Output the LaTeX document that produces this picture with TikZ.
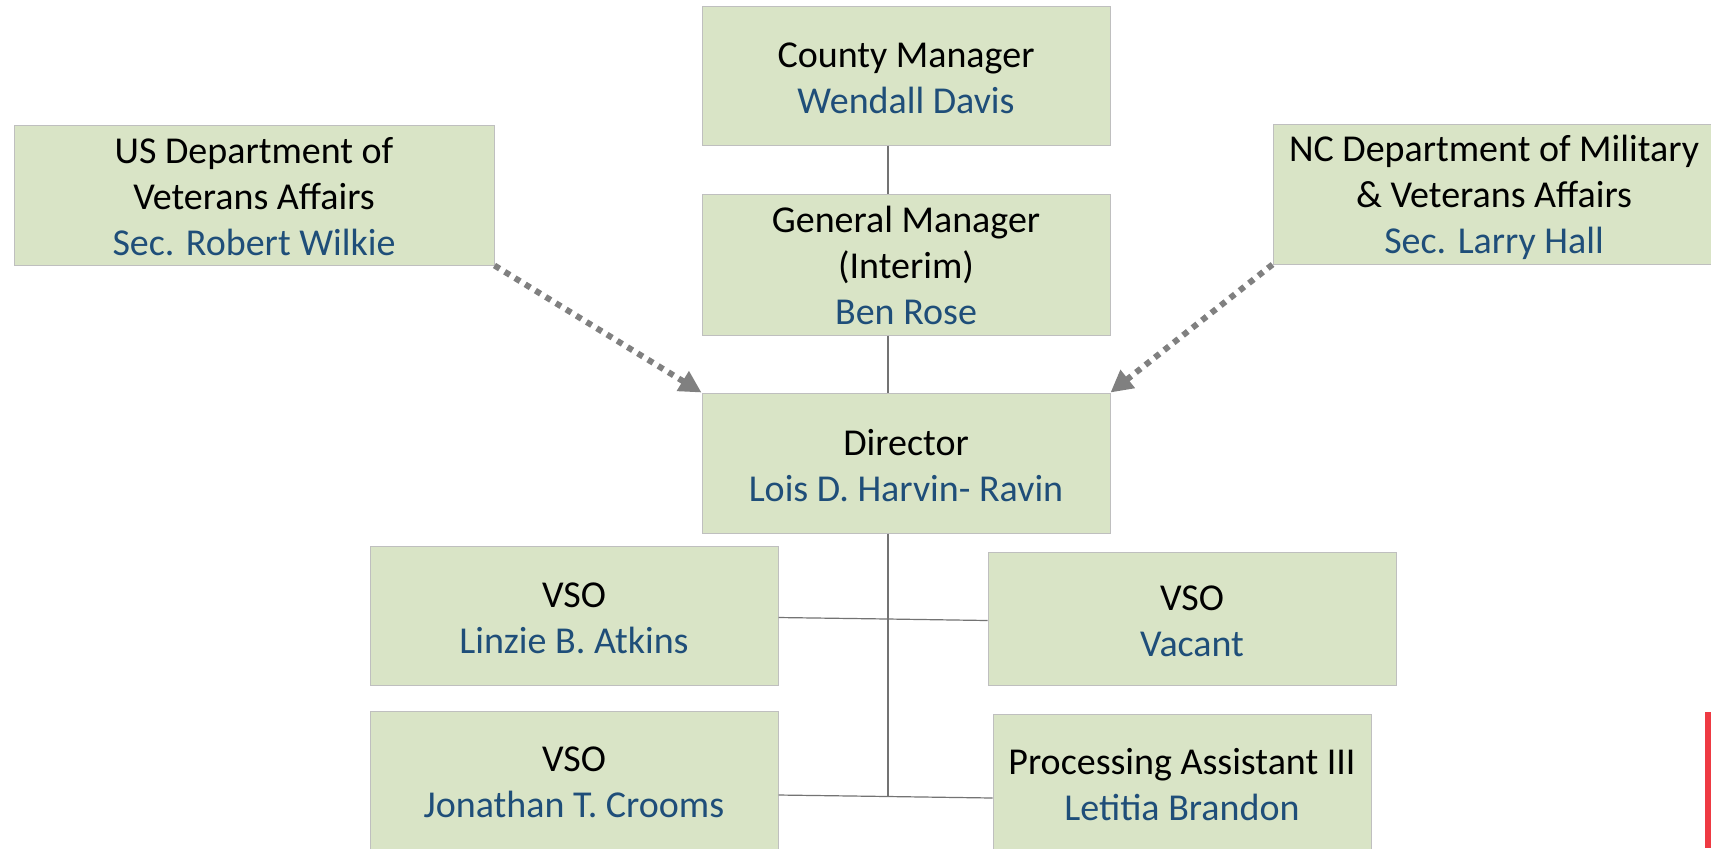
\documentclass[tikz,border=0pt]{standalone}
\usepackage{fontspec}
\setmainfont{Carlito}
\usetikzlibrary{arrows.meta}
\definecolor{boxfill}{HTML}{D9E4C6}
\definecolor{boxline}{HTML}{BFBFBF}
\definecolor{namec}{HTML}{1F4E79}
\definecolor{arrowc}{HTML}{808080}
\definecolor{redbar}{HTML}{EE3A43}
\tikzset{
  orgbox/.style={draw=boxline, line width=0.5pt, fill=boxfill, inner sep=0pt},
  orgtext/.style={align=center, font=\fontsize{19}{23}\selectfont, inner sep=0pt},
  orgline/.style={draw=black!55, line width=0.6pt},
  dotarrow/.style={draw=arrowc, line width=3pt, dash pattern=on 3pt off 3pt,
    -{Triangle[length=11pt,width=11pt]}, arrowc},
}
\newcommand{\nm}[1]{\textcolor{namec}{#1}}
\begin{document}
\begin{tikzpicture}[x=0.5pt,y=-0.5pt]
\useasboundingbox (0,0) rectangle (1711,848);
\clip (0,0) rectangle (1711,848);
\fill[white] (0,0) rectangle (1711,848);
% boxes
\node[orgbox, minimum width=204pt, minimum height=69.5pt] (cm) at (906,75.5) {};
\node[orgbox, minimum width=204pt, minimum height=70.5pt] (gm) at (906,264.5) {};
\node[orgbox, minimum width=204pt, minimum height=70pt] (dir) at (906,463) {};
\node[orgbox, minimum width=240pt, minimum height=70pt] (us) at (254,195) {};
\node[orgbox, minimum width=221pt, minimum height=70pt] (nc) at (1494,194) {};
\node[orgbox, minimum width=204pt, minimum height=69.5pt] (vso1) at (574,615.5) {};
\node[orgbox, minimum width=204pt, minimum height=66.5pt] (vso2) at (1192,618.5) {};
\node[orgbox, minimum width=204pt, minimum height=70.5pt] (vso3) at (574,781.5) {};
\node[orgbox, minimum width=189pt, minimum height=69pt] (pa) at (1182,783) {};
% texts
\node[orgtext] (cmt) at ([yshift=-1.6pt]cm.center) {County Manager\\\nm{Wendall Davis}};
\node[orgtext] (gmt) at ([yshift=-0.4pt]gm.center) {General Manager\\(Interim)\\\nm{Ben Rose}};
\node[orgtext] (dirt) at ([yshift=-1.1pt]dir.center) {Director\\\nm{Lois D. Harvin- Ravin}};
\node[orgtext] (ust) at ([yshift=-0.9pt]us.center) {US Department of\\Veterans Affairs\\\nm{Sec. Robert Wilkie}};
\node[orgtext] (nct) at ([yshift=-1.9pt]nc.center) {NC Department of Military\\\& Veterans Affairs\\\nm{Sec. Larry Hall}};
\node[orgtext] (vso1t) at ([yshift=-1.4pt]vso1.center) {VSO\\\nm{Linzie B. Atkins}};
\node[orgtext] (vso2t) at ([yshift=-1.6pt]vso2.center) {VSO\\\nm{Vacant}};
\node[orgtext] (vso3t) at ([yshift=-0.5pt]vso3.center) {VSO\\\nm{Jonathan T. Crooms}};
\node[orgtext] (pat) at ([yshift=-0.7pt]pa.center) {Processing Assistant III\\\nm{Letitia Brandon}};
% connectors
\coordinate (h1l) at (778,617.5);
\coordinate (j1) at (888,619);
\coordinate (h1r) at (988,620.5);
\coordinate (h2l) at (778,795);
\coordinate (j2) at (888,796.5);
\coordinate (h2r) at (993,798);
\draw[orgline] (cm.south -| j1) -- (gm.north -| j1);
\draw[orgline] (gm.south -| j1) -- (dir.north -| j1);
\draw[orgline] (dir.south -| j1) -- (j2);
\draw[orgline] (vso1.east |- h1l) -- (j1) -- (vso2.west |- h1r);
\draw[orgline] (vso3.east |- h2l) -- (j2) -- (pa.west |- h2r);
\draw[dotarrow] (us.south east) -- (dir.north west);
\draw[dotarrow] (nc.south west) -- (dir.north east);
% red bar
\fill[redbar] (1705,712) rectangle (1711,848);
\end{tikzpicture}
\end{document}
